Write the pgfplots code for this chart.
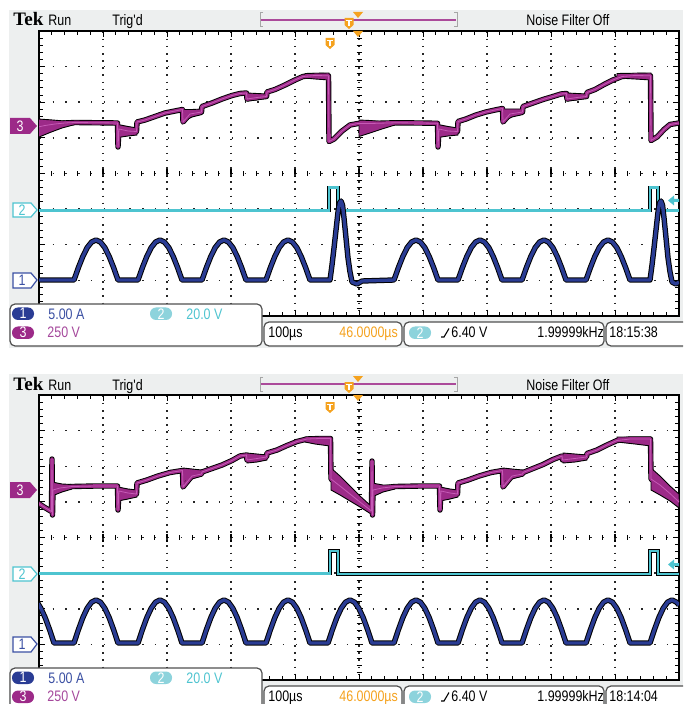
\documentclass[border=0pt]{standalone}
\usepackage{pgfplots}
\usepackage{pgfplotstable}
\pgfplotsset{compat=1.18}
\usepackage{fontspec}
\setmainfont{Liberation Sans}
\newfontfamily\scopefont[FakeStretch=0.82]{Liberation Sans}
\newfontfamily\tekfont{Liberation Serif}
\newcommand\scopefnt{\scopefont\fontsize{7.6}{9}\selectfont}
\definecolor{bgray}{HTML}{EDEFEF}
\definecolor{chA}{HTML}{2A3C94}
\definecolor{chAt}{HTML}{3B50A3}
\definecolor{chB}{HTML}{4EC4D0}
\definecolor{chBchip}{HTML}{8DD3DC}
\definecolor{chC}{HTML}{9C2A88}
\definecolor{chCt}{HTML}{A5489C}
\definecolor{chCcore}{HTML}{C65AB6}
\definecolor{torange}{HTML}{F5A21E}
\definecolor{boxedge}{HTML}{505050}

\pgfplotsset{
  scopegrid/.style={
    scale only axis, width=320pt, height=142.5pt, anchor=north west,
    xmin=39, xmax=679, y dir=reverse,
    xtick={39,103,167,231,295,359,423,487,551,615,679},
    xticklabels={}, yticklabels={},
    minor x tick num=4, minor y tick num=4,
    tick align=inside, xtick pos=both, ytick pos=both,
    major tick length=3pt, minor tick length=2pt,
    tick style={black, line width=0.5pt},
    grid=major,
    x grid style={black!85, line width=0.75pt, dash pattern=on 0.75pt off 2.8125pt, dash phase=3.1875pt},
    y grid style={black!85, line width=0.75pt, dash pattern=on 0.75pt off 5.65pt, dash phase=6.025pt},
    axis line style={black, line width=0.6pt},
    clip=true,
  },
  c3o/.style={black, line width=2.7pt, line join=round},
  c3/.style={chC, line width=1.8pt, line join=round},
  c3core/.style={chCcore, line width=0.4pt, line join=round},
  c3band/.style={fill=chC, draw=black, line width=0.45pt},
  c2o/.style={black, line width=1.9pt},
  c2/.style={chB, line width=1.1pt},
  c1o/.style={black, line width=2.7pt, line join=round},
  c1/.style={chA, line width=1.7pt, line join=round},
}

\pgfplotstableread[row sep=\\]{x y\\
38 127\\ 45 125.5\\ 55 124\\ 65 123\\ 75 122.5\\ 100 122.8\\ 117.5 123\\ 118 147\\ 119 129\\ 128 131\\ 136.5 131.5\\
137 122\\ 145 120\\ 155 116.5\\ 165 113\\ 175 111\\ 182.5 109.5\\ 183 122\\ 190 114\\ 201.5 112\\ 202 106.5\\
212 103\\ 222 99\\ 232 95.5\\ 240 93.5\\ 246.5 93\\ 247 99\\ 257 97.5\\ 266.5 96.5\\ 267 92\\ 275 89.5\\ 285 85\\
295 80\\ 303 76.5\\ 315 75.5\\ 328.5 75.8\\ 329 141.5\\ 334 139\\ 342 131\\ 350 125\\ 358 123.5\\ 370 123.5\\
395 122.8\\ 420 123\\ 437.5 123.3\\ 438 147\\ 439 129\\ 448 131\\ 457.5 131.5\\ 458 121.5\\ 466 119\\ 476 115\\
486 112\\ 495 110\\ 502.5 108.5\\ 503 122\\ 510 114\\ 522.5 112\\ 523 106.5\\ 533 103\\ 543 99.5\\ 553 96.5\\
561 94\\ 566.5 93.5\\ 567 99\\ 577 97.5\\ 586.5 96.5\\ 587 92.5\\ 595 89.5\\ 605 84\\ 613 80\\ 622 76.5\\ 635 75.5\\
650.5 75.8\\ 651 140.5\\ 657 137\\ 664 129.5\\ 670 124.5\\ 679 123\\
}\pAthree

\pgfplotstableread[row sep=\\]{x y\\
38 503\\ 44 507\\ 51.5 511.5\\ 52 459\\ 52.5 515\\ 53 490\\ 60 488\\ 72 486.5\\ 95 486\\ 117.5 486\\ 118 510\\
119 491\\ 128 493\\ 136.5 494\\ 137 483\\ 147 480\\ 158 476\\ 170 472.5\\ 182.5 470.5\\ 183 487\\ 192 476\\
201.5 474\\ 202 472\\ 212 468.5\\ 222 465\\ 232 460.5\\ 240 456\\ 246.5 455\\ 247 460\\ 257 458.5\\ 266.5 457\\
267 453\\ 277 450\\ 287 445.5\\ 297 441.5\\ 307 439\\ 320 438.5\\ 330.5 438.5\\ 331 479\\ 340 486\\ 350 494\\
360 502\\ 371.5 511\\ 372 461\\ 372.5 515\\ 373 490\\ 382 488\\ 395 486.5\\ 420 486\\ 439.5 486\\ 440 510\\
441 491\\ 450 493\\ 457.5 494\\ 458 483\\ 468 480\\ 479 476\\ 491 472.5\\ 502.5 470.5\\ 503 487\\ 512 476\\
522.5 474\\ 523 472.5\\ 533 468.5\\ 543 464.5\\ 553 459.5\\ 562 456\\ 562.5 460\\ 586.5 457\\ 587 453.5\\
597 450\\ 607 445\\ 617 440.5\\ 630 439\\ 650.5 439\\ 651 479\\ 660 485\\ 670 493.5\\ 679 502\\
}\pBthree

\pgfplotstableread[row sep=\\]{x y\\
38 210.5\\ 329 210.5\\ 329 187.5\\ 338 187.5\\ 338 210.5\\ 650 210.5\\ 650 187.5\\ 658 187.5\\ 658 210.5\\ 679 210.5\\
}\pAtwo

\pgfplotstableread[row sep=\\]{x y\\
38 573.5\\ 330 573.5\\ 330 551\\ 338 551\\ 338 574\\ 650 574\\ 650 551\\ 658 551\\ 658 574\\ 679 574\\
}\pBtwo

\pgfplotstableread[row sep=\\]{x y\\
38 280\\ 74 280\\ 78.4 267.6\\ 82.8 256.5\\ 87.2 247.6\\ 91.6 242\\ 96 240\\ 100.4 242\\ 104.8 247.6\\ 109.2 256.5\\ 113.6 267.6\\ 118 280\\
138 280\\ 142.4 267.6\\ 146.8 256.5\\ 151.2 247.6\\ 155.6 242\\ 160 240\\ 164.4 242\\ 168.8 247.6\\ 173.2 256.5\\ 177.6 267.6\\ 182 280\\
202 280\\ 206.4 267.6\\ 210.8 256.5\\ 215.2 247.6\\ 219.6 242\\ 224 240\\ 228.4 242\\ 232.8 247.6\\ 237.2 256.5\\ 241.6 267.6\\ 246 280\\
266 280\\ 270.4 267.6\\ 274.8 256.5\\ 279.2 247.6\\ 283.6 242\\ 288 240\\ 292.4 242\\ 296.8 247.6\\ 301.2 256.5\\ 305.6 267.6\\ 310 280\\
330 280\\ 332 265\\ 334 248\\ 336 230\\ 338 212\\ 339.5 203\\ 341 201\\ 342.5 205\\ 344 218\\ 346 238\\ 348 258\\ 350 272\\ 352 282\\ 357 284\\ 362 281\\
394 280\\ 398.4 267.6\\ 402.8 256.5\\ 407.2 247.6\\ 411.6 242\\ 416 240\\ 420.4 242\\ 424.8 247.6\\ 429.2 256.5\\ 433.6 267.6\\ 438 280\\
458 280\\ 462.4 267.6\\ 466.8 256.5\\ 471.2 247.6\\ 475.6 242\\ 480 240\\ 484.4 242\\ 488.8 247.6\\ 493.2 256.5\\ 497.6 267.6\\ 502 280\\
522 280\\ 526.4 267.6\\ 530.8 256.5\\ 535.2 247.6\\ 539.6 242\\ 544 240\\ 548.4 242\\ 552.8 247.6\\ 557.2 256.5\\ 561.6 267.6\\ 566 280\\
586 280\\ 590.4 267.6\\ 594.8 256.5\\ 599.2 247.6\\ 603.6 242\\ 608 240\\ 612.4 242\\ 616.8 247.6\\ 621.2 256.5\\ 625.6 267.6\\ 630 280\\
650 280\\ 652 265\\ 654 248\\ 656 230\\ 658 212\\ 659.5 203\\ 661 201\\ 662.5 205\\ 664 218\\ 666 238\\ 668 258\\ 670 272\\ 672 282\\ 676 284\\ 679 282\\
}\pAone

\pgfplotstableread[row sep=\\]{x y\\
38 603.5\\ 40.8 608.2\\ 45.2 617.7\\ 49.6 629.7\\ 54 643\\
74 643\\ 78.4 629.7\\ 82.8 617.7\\ 87.2 608.2\\ 91.6 602.1\\ 96 600\\ 100.4 602.1\\ 104.8 608.2\\ 109.2 617.7\\ 113.6 629.7\\ 118 643\\
138 643\\ 142.4 629.7\\ 146.8 617.7\\ 151.2 608.2\\ 155.6 602.1\\ 160 600\\ 164.4 602.1\\ 168.8 608.2\\ 173.2 617.7\\ 177.6 629.7\\ 182 643\\
202 643\\ 206.4 629.7\\ 210.8 617.7\\ 215.2 608.2\\ 219.6 602.1\\ 224 600\\ 228.4 602.1\\ 232.8 608.2\\ 237.2 617.7\\ 241.6 629.7\\ 246 643\\
266 643\\ 270.4 629.7\\ 274.8 617.7\\ 279.2 608.2\\ 283.6 602.1\\ 288 600\\ 292.4 602.1\\ 296.8 608.2\\ 301.2 617.7\\ 305.6 629.7\\ 310 643\\
328 643\\ 332.4 629.7\\ 336.8 617.7\\ 341.2 608.2\\ 345.6 602.1\\ 350 600\\ 354.4 602.1\\ 358.8 608.2\\ 363.2 617.7\\ 367.6 629.7\\ 372 643\\
394 643\\ 398.4 629.7\\ 402.8 617.7\\ 407.2 608.2\\ 411.6 602.1\\ 416 600\\ 420.4 602.1\\ 424.8 608.2\\ 429.2 617.7\\ 433.6 629.7\\ 438 643\\
458 643\\ 462.4 629.7\\ 466.8 617.7\\ 471.2 608.2\\ 475.6 602.1\\ 480 600\\ 484.4 602.1\\ 488.8 608.2\\ 493.2 617.7\\ 497.6 629.7\\ 502 643\\
522 643\\ 526.4 629.7\\ 530.8 617.7\\ 535.2 608.2\\ 539.6 602.1\\ 544 600\\ 548.4 602.1\\ 552.8 608.2\\ 557.2 617.7\\ 561.6 629.7\\ 566 643\\
586 643\\ 590.4 629.7\\ 594.8 617.7\\ 599.2 608.2\\ 603.6 602.1\\ 608 600\\ 612.4 602.1\\ 616.8 608.2\\ 621.2 617.7\\ 625.6 629.7\\ 630 643\\
650 643\\ 654.4 629.7\\ 658.8 617.7\\ 663.2 608.2\\ 667.6 602.1\\ 672 600\\ 676.4 602.1\\ 679 605\\
}\pBone

\newcommand\panelback{%
  \fill[bgray] (9,10) rectangle (683,348);
  \fill[white] (38.5,31) rectangle (679.5,316);
  \foreach \i in {0,...,50} {\draw[black,line width=0.5pt] ({39+12.8*\i},171.3) -- ++(0,4.4);}
  \foreach \i in {0,...,40} {\draw[black,line width=0.5pt] (356.5,{31+7.125*\i}) -- ++(5,0);}
  \foreach \i in {0,...,10} {\draw[black,line width=0.6pt] ({39+64*\i},169.5) -- ++(0,8);}
  \foreach \i in {0,...,8} {\draw[black,line width=0.6pt] (355,{31+35.625*\i}) -- ++(8,0);}
}
\newcommand\tmarker[2]{%
  \begin{scope}[shift={(#1,#2)}]
    \fill[torange] (-4.5,0) -- (4.5,0) -- (4.5,7) -- (0,11) -- (-4.5,7) -- cycle;
    \fill[white] (-3,1.6) rectangle (3,3.2);
    \fill[white] (-1,3.2) rectangle (1,8);
  \end{scope}}
\newcommand\chip[4]{% x1 y1 colour text
  \fill[#3, rounded corners=3pt] (#1,#2) rectangle ++(22,12.5);
  \node[text=white, font=\scopefnt, inner sep=0] at ($(#1,#2)+(11,6.25)$) {#4};}
\newcommand\panelfront[1]{%
  \node[anchor=base west, inner sep=0, font=\tekfont\bfseries\fontsize{9.5}{10}\selectfont] at (13,26) {Tek};
  \node[anchor=base west, inner sep=0, font=\scopefnt] at (48,26) {Run};
  \node[anchor=base west, inner sep=0, font=\scopefnt] at (112,26) {Trig'd};
  \node[anchor=base west, inner sep=0, font=\scopefnt] at (526,26) {Noise Filter Off};
  \draw[black!35, line width=0.5pt] (263,13) -- (260,13) -- (260,27) -- (263,27);
  \draw[black!35, line width=0.5pt] (454,13) -- (457,13) -- (457,27) -- (454,27);
  \draw[chC!85, line width=0.7pt] (261,20) -- (456,20);
  \fill[torange] (353,12) -- (363,12) -- (358,18) -- cycle;
  \tmarker{349}{18}
  \fill[torange] (353,31) -- (363,31) -- (358,37) -- cycle;
  \tmarker{330}{38}
  % channel markers
  \fill[chC] (10,118) -- (30,118) -- (37,126) -- (30,134) -- (10,134) -- cycle;
  \node[text=white, font=\scopefnt, inner sep=0] at (20,126) {3};
  \draw[chB, fill=white, line width=0.6pt] (13,203) -- (31,203) -- (37,210) -- (31,217) -- (13,217) -- cycle;
  \node[text=chB, font=\scopefnt, inner sep=0] at (22,210) {2};
  \draw[chAt, fill=white, line width=0.6pt] (13,273) -- (31,273) -- (37,280) -- (31,288) -- (13,288) -- cycle;
  \node[text=chAt, font=\scopefnt, inner sep=0] at (22,280.5) {1};
  % trigger level arrow
  \fill[chB] (668,200.5) -- (674,195.5) -- (674,199) -- (679,199) -- (679,202) -- (674,202) -- (674,205.5) -- cycle;
  % info boxes
  \draw[boxedge, fill=white, line width=0.6pt, rounded corners=2.5pt] (10,304) rectangle (262,346);
  \draw[boxedge, fill=white, line width=0.6pt, rounded corners=2.5pt] (264,322) rectangle (402,346);
  \draw[boxedge, fill=white, line width=0.6pt, rounded corners=2.5pt] (404,322) rectangle (604,346);
  \draw[boxedge, fill=white, line width=0.6pt, rounded corners=2.5pt] (606,322) rectangle (692,346);
  \chip{12}{307.5}{chA}{1}
  \chip{150}{307.5}{chBchip}{2}
  \chip{12}{326.5}{chC}{3}
  \chip{409}{326.5}{chBchip}{2}
  \node[anchor=base west, inner sep=0, font=\scopefnt, text=chAt] at (48,319.5) {5.00 A};
  \node[anchor=base west, inner sep=0, font=\scopefnt, text=chB] at (186,319.5) {20.0 V};
  \node[anchor=base west, inner sep=0, font=\scopefnt, text=chCt] at (47,337.5) {250 V};
  \node[anchor=base west, inner sep=0, font=\scopefnt] at (268,337.5) {100µs};
  \node[anchor=base west, inner sep=0, font=\scopefnt, text=torange] at (339,337.5) {46.0000µs};
  \draw[black, line width=0.55pt] (441,337) -- (444,337) -- (449,328.5);
  \node[anchor=base west, inner sep=0, font=\scopefnt] at (451,337.5) {6.40 V};
  \node[anchor=base west, inner sep=0, font=\scopefnt] at (537,337.5) {1.99999kHz};
  \node[anchor=base west, inner sep=0, font=\scopefnt] at (609,337.5) {#1};
}
\usetikzlibrary{calc}

\begin{document}
\begin{tikzpicture}
\clip (0,0) rectangle (341.5pt,-352pt);
\fill[white] (0,0) rectangle (341.5pt,-352pt);
\begin{scope}[x=0.5pt,y=-0.5pt]
  \panelback
  \begin{scope}[yshift=-182pt]\panelback\end{scope}
\end{scope}

\begin{axis}[scopegrid, at={(19.5pt,-15.5pt)}, ymin=31, ymax=316,
  ytick={31,66.625,102.25,137.875,173.5,209.125,244.75,280.375,316}]
  \addplot[c3o] table {\pAthree};
  \addplot[c3band] coordinates {(38,119)(50,119.8)(62,120.8)(75,121.5)(75,124.5)(62,128)(50,132.5)(38,137.5)} -- cycle;
  \addplot[c3band] coordinates {(118,124.5)(128,126.5)(137,128)(137,135)(128,136)(118,137.5)} -- cycle;
  \addplot[c3band] coordinates {(183,109.5)(192,109.5)(202,109)(202,114.5)(192,117)(183,121.5)} -- cycle;
  \addplot[c3band] coordinates {(247,93)(257,93.5)(267,94)(267,98)(257,100)(247,101)} -- cycle;
  \addplot[c3band] coordinates {(305,73.5)(329,73)(329,80)(315,79)(305,78)} -- cycle;
  \addplot[c3band] coordinates {(359,120)(370,120.5)(382,121.5)(395,122)(395,125)(382,129)(370,133)(359,136.5)} -- cycle;
  \addplot[c3band] coordinates {(438,124.5)(448,126.5)(458,128)(458,135)(448,136)(438,137.5)} -- cycle;
  \addplot[c3band] coordinates {(503,109)(512,109)(523,109)(523,114.5)(512,117)(503,121.5)} -- cycle;
  \addplot[c3band] coordinates {(567,93)(577,93.5)(587,94)(587,98)(577,100)(567,101)} -- cycle;
  \addplot[c3band] coordinates {(617,73.5)(651,73)(651,80)(635,79)(617,78)} -- cycle;
  \addplot[c3] table {\pAthree};
  \addplot[c3core] table {\pAthree};
  \addplot[c2o] table {\pAtwo};
  \addplot[c2] table {\pAtwo};
  \addplot[c1o] table {\pAone};
  \addplot[c1] table {\pAone};
\end{axis}

\begin{axis}[scopegrid, at={(19.5pt,-197.5pt)}, ymin=395, ymax=680,
  ytick={395,430.625,466.25,501.875,537.5,573.125,608.75,644.375,680}]
  \addplot[c3o] table {\pBthree};
  \addplot[c3band] coordinates {(52,482)(62,484)(72,484.5)(72,489)(62,492)(52,496)} -- cycle;
  \addplot[c3band] coordinates {(118,487)(128,489)(137,490)(137,497)(128,499)(118,501)} -- cycle;
  \addplot[c3band] coordinates {(183,468)(192,469)(202,470)(202,476)(192,479)(183,482)} -- cycle;
  \addplot[c3band] coordinates {(247,453)(257,454)(267,455)(267,460)(257,462)(247,463)} -- cycle;
  \addplot[c3band] coordinates {(305,437)(330,437)(330,446)(315,444)(305,442)} -- cycle;
  \addplot[c3band] coordinates {(331,468)(340,476)(350,486)(360,496)(371,506)(371,514)(360,507)(350,501)(340,495)(331,490)} -- cycle;
  \addplot[c3band] coordinates {(372,483)(383,485)(395,485)(395,489)(383,492)(372,497)} -- cycle;
  \addplot[c3band] coordinates {(440,487)(450,489)(458,490)(458,497)(450,499)(440,501)} -- cycle;
  \addplot[c3band] coordinates {(503,468)(512,469)(523,470)(523,476)(512,479)(503,482)} -- cycle;
  \addplot[c3band] coordinates {(563,453)(575,454)(587,455)(587,460)(575,462)(563,463)} -- cycle;
  \addplot[c3band] coordinates {(617,437)(651,437)(651,446)(635,444)(617,442)} -- cycle;
  \addplot[c3band] coordinates {(651,468)(660,476)(670,486)(679,494)(679,508)(670,501)(660,495)(651,490)} -- cycle;
  \addplot[c3] table {\pBthree};
  \addplot[c3core] table {\pBthree};
  \addplot[c2o] table {\pBtwo};
  \addplot[c2] table {\pBtwo};
  \addplot[c1o] table {\pBone};
  \addplot[c1] table {\pBone};
\end{axis}

\begin{scope}[x=0.5pt,y=-0.5pt]
  \panelfront{18:15:38}
  \begin{scope}[yshift=-182pt]\panelfront{18:14:04}\end{scope}
\end{scope}
\end{tikzpicture}
\end{document}
